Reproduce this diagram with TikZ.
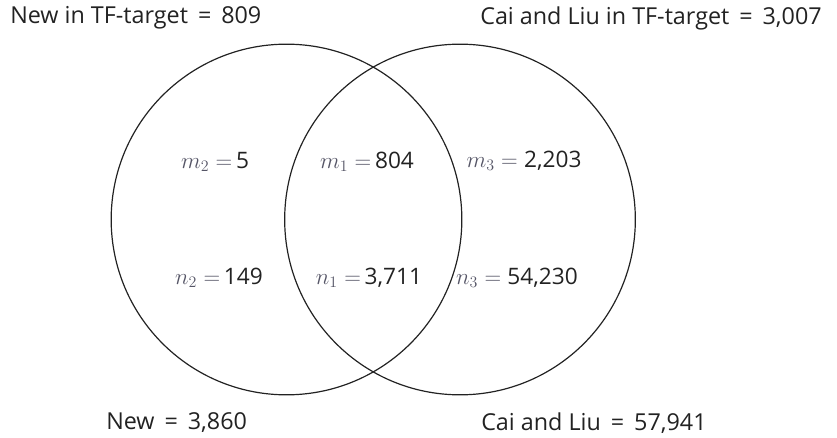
\documentclass[tikz,border=0pt]{standalone}
\usepackage{fontspec}
\setmainfont{Open Sans}
\usepackage{tikz}
\usetikzlibrary{positioning}
\definecolor{ink}{HTML}{222222}
\definecolor{mathgray}{HTML}{555566}
\tikzset{
  setcircle/.style={circle, draw=ink, line width=0.9pt, minimum size=263pt, inner sep=0pt},
  head/.style={font=\fontsize{17.5}{20}\selectfont, text=ink, inner sep=0pt, anchor=west},
  cnt/.style={font=\fontsize{17}{20}\selectfont, text=ink, inner sep=0pt}
}
\newcommand{\mq}[1]{\textcolor{mathgray}{$#1$}}
\begin{document}
\begin{tikzpicture}[x=0.75pt, y=-0.75pt]
 \useasboundingbox (0,0) rectangle (837,438);
 % the two sets
 \node[setcircle] (new) at (286.5,219.5) {};
 \node[setcircle] (cai) at (460,219.5) {};
 % set totals
 \node[head] (newtf) at (10,18) {New in TF-target \,=\, 809};
 \node[head] (caitf) at (480,18) {Cai and Liu in TF-target \,=\, 3,007};
 \node[head] (newall) at (106,423) {New \,=\, 3,860};
 \node[head] (caiall) at (481,423) {Cai and Liu \,=\, 57,941};
 % region counts
 \node[cnt] (m2) at (215,162) {\mq{m_2 =}\,5};
 \node[cnt] (m1) at (367,162) {\mq{m_1 =}\,804};
 \node[cnt] (m3) at (524,161) {\mq{m_3 =}\;2,203};
 \node[cnt] (n2) at (219,278) {\mq{n_2 =}\,149};
 \node[cnt] (n1) at (369,278) {\mq{n_1 =}\,3,711};
 \node[cnt] (n3) at (517,278) {\mq{n_3 =}\;54,230};
\end{tikzpicture}
\end{document}
